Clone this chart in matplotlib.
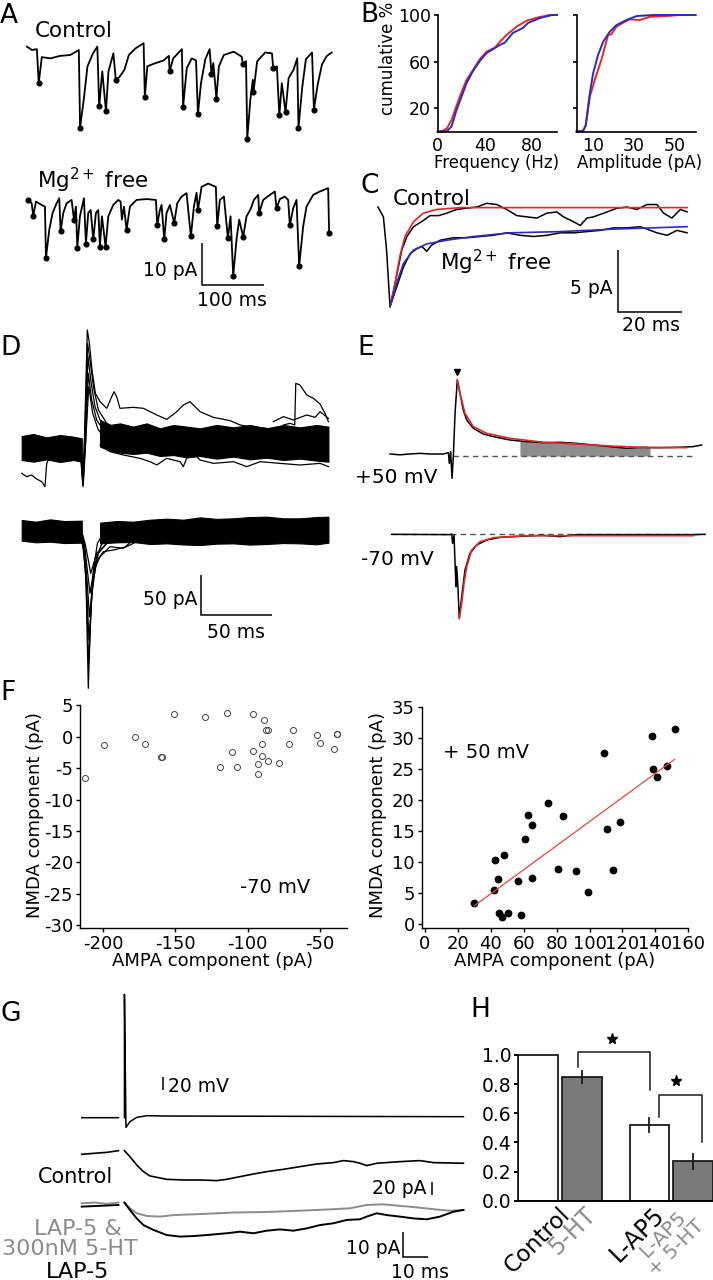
import numpy as np
import matplotlib
matplotlib.use("Agg")
import matplotlib.pyplot as plt

# ---------------- data ----------------
# A: sEPSC traces (ms, pA), dots mark detected events (indices into the traces)
ctrl_t = [0, 8, 16, 19, 24, 38, 54, 70, 84, 86, 92, 98, 107, 114, 117, 122, 128, 132, 140, 144,
          150, 158, 165, 176, 189, 191, 195, 205, 221, 230, 231, 237, 251, 253, 259, 267, 274, 277, 282, 289,
          296, 299, 302, 307, 311, 319, 335, 348, 350, 355, 357, 362, 366, 367, 373, 386, 397, 399, 405, 409,
          413, 419, 424, 432, 438, 440, 446, 452, 462, 465, 471, 478, 486, 494]
ctrl_i = [0.4, -0.4, -0.2, -8.3, -2.1, -2.4, -1.8, -1.6, -0.4, -18.9, -12.2, -4.3, -1.2, 0.4, -13.8, -5.5, -15.0, -5.5, -1.2, -7.6,
          -6.8, -5.1, -1.6, 0, 1.2, -11.6, -4.3, -3.7, -2.9, -1.8, -5.5, -2.4, -0.2, -13.9, -4.7, -2.4, -2.9, -15.7, -8.3, -2.6,
          -0.2, -6.1, -3.5, -12.0, -4.3, -1.6, -0.8, -2.0, -3.7, -3.1, -21.5, -12.2, -7.5, -10.5, -3.1, -1.0, -1.2, -4.7, -4.3, -16.0,
          -8.3, -15.2, -7.1, -5.1, -2.4, -18.9, -9.4, -2.6, -1.0, -14.6, -8.7, -3.9, -1.8, -1.0]
ctrl_events = [3, 9, 14, 16, 19, 25, 30, 33, 37, 41, 43, 48, 50, 53, 57, 59, 61, 65, 69]

mg_t = [0, 5.4, 8.1, 12.4, 21.6, 27, 28.6, 34, 39.4, 45.9, 50.2, 52.4, 56.7, 62.1, 70.2, 74, 77.2, 79.4, 83.7, 90.2,
        93.4, 97.2, 101, 105.3, 109.6, 113.4, 116.1, 119.3, 125.3, 129.6, 137.7, 145.8, 149.6, 151.7, 155, 159.3, 164.7,
        175.5, 191.7, 206.8, 209, 213.3, 216, 220.3, 224.1, 229.5, 236.5, 241.4, 248.4, 256.5, 263.5, 268.4, 272.7, 274.9,
        280.8, 291.6, 304, 306.2, 310.5, 317, 323.5, 327.8, 332.1, 337.5, 341.8, 348.3, 353.7, 360.2, 365.6, 372.6, 374.2,
        380.7, 391.5, 399.6, 402.3, 407.7, 415.8, 421.2, 423.9, 429.3, 434.7, 439, 445.5, 450.9, 461.7, 472.5, 486, 487.6]
mg_i = [0, -0.8, -3.8, -0.4, -1.2, -1.6, -13.8, -7.1, -3.1, -0.8, 0.4, -7.5, -3.1, -0.8, 0, -4.7, -1.6, -11.4, -3.9, 0.4,
        -10.4, -3.1, -2.4, -9.4, -3.1, -2.4, -11.2, -3.9, -11.2, -3.9, -1.2, 0, -0.4, -4.7, -1.6, -7.1, -1.6,
        0, 0.2, 0, -5.9, -2.4, -1.2, -9.4, -3.1, -1.2, -5.5, -0.8, 0.8, 1.6, -8.7, -1.6, 1.7, -2.5,
        3.1, 3.9, 3.1, -6.3, 0, 0.8, -9.1, -3.9, -18.1, -9.4, -4.7, -8.8, -3.9, -2.2, 0, 1.2, -3.1,
        0, 1.2, 2.0, -2.0, 0.2, 0.8, 0, -6.0, -2.0, 0, -15.7, -6.3, -1.6, 1.2, 2.0, 2.8, -7.9]
mg_events = [0, 2, 6, 11, 15, 17, 20, 23, 26, 28, 35, 40, 43, 46, 50, 53, 57, 60, 62, 65, 70, 74, 78, 81, 87]

# B: cumulative distributions (%), control = red, Mg2+ free = blue
freq_ctrl_x = [0, 4.5, 7.9, 11.7, 18.7, 24.4, 30.0, 35.7, 41.4, 48.5, 52.8, 58.5, 67.0, 75.5, 85.4, 95.3, 101.3]
freq_ctrl_y = [0, 0.9, 2.9, 10.0, 29.9, 44.3, 52.8, 62.0, 68.5, 72.0, 77.1, 82.9, 90.0, 95.1, 98.0, 100, 100]
freq_mg_x = [0, 7.9, 11.7, 16.0, 20.2, 24.4, 30.1, 35.7, 41.4, 48.5, 52.8, 57.0, 63.8, 72.3, 76.6, 86.8, 97.0, 101.3]
freq_mg_y = [0, 0.6, 4.3, 18.6, 29.9, 41.4, 52.2, 60.5, 67.3, 71.7, 74.3, 76.3, 84.6, 88.9, 93.1, 97.4, 100, 100]
amp_ctrl_x = [1.9, 5.1, 6.4, 8.4, 10.8, 14.0, 17.3, 18.9, 21.4, 24.6, 27.9, 32.8, 37.7, 45.8, 52.3, 56.4]
amp_ctrl_y = [0, 0.9, 4.9, 30.0, 44.3, 61.4, 82.9, 83.5, 90.0, 93.4, 96.3, 95.7, 98.5, 99.1, 100, 100]
amp_mg_x = [1.9, 5.1, 6.4, 8.4, 10.0, 12.4, 14.9, 18.1, 21.4, 26.3, 31.2, 39.3, 60.0]
amp_mg_y = [0, 0.7, 5.7, 32.9, 50.0, 65.7, 77.1, 85.6, 91.4, 95.7, 99.1, 100, 100]

# C: averaged events (ms, pA) with fits
avg_ctrl_t = [0, 1.7, 2.7, 3.8, 5.4, 7.5, 9.1, 11.2, 14.3, 16.4, 19.1, 21.7, 24.8, 28.0, 31.2, 34.3, 37.5, 40.6, 43.8,
              46.9, 50.1, 53.3, 56.4, 58.5, 61.7, 63.8, 65.9, 68.0, 71.2, 75.4, 78.5, 81.7, 84.8, 88.0, 90.1, 92.7, 95.4, 97.5]
avg_ctrl_i = [0, -0.8, -3.5, -8.1, -6.2, -3.5, -2.4, -1.6, -1.1, -0.7, -0.7, -0.5, -0.2, -0.1, 0, 0.3, 0.2, -0.2, -0.7,
              -0.8, -0.9, -0.5, -0.4, -0.8, -1.2, -1.5, -0.9, -0.8, -0.5, -0.1, 0, -0.2, 0.2, 0.2, -0.5, -0.9, -0.2, -0.4]
fit_ctrl_t = [3.8, 5.4, 6.9, 8.5, 11.2, 14.3, 18.5, 25.9, 97.5]
fit_ctrl_i = [-8.1, -6.2, -4.0, -2.4, -1.2, -0.5, -0.2, -0.05, -0.05]
avg_mg_t = [3.8, 5.9, 8.0, 10.1, 12.2, 13.8, 15.4, 16.9, 19.6, 23.8, 28.0, 32.2, 36.4, 40.6, 44.8, 49.1, 53.3, 57.5,
            61.7, 65.9, 70.1, 74.3, 78.5, 82.7, 85.9, 88.0, 91.2, 94.3, 97.5]
avg_mg_i = [-8.1, -6.5, -4.9, -3.8, -3.4, -3.2, -3.6, -3.1, -2.7, -2.5, -2.5, -2.4, -2.3, -2.1, -2.3, -2.4, -2.3, -2.1,
            -2.1, -2.0, -1.9, -1.7, -1.7, -1.6, -1.9, -2.1, -2.3, -1.9, -2.1]
fit_mg_t = [3.8, 5.9, 8.0, 11.2, 15.4, 21.7, 30.1, 41.7, 57.5, 74.3, 97.5]
fit_mg_i = [-8.1, -6.2, -4.6, -3.5, -3.0, -2.7, -2.4, -2.1, -2.0, -1.8, -1.6]

# D: superimposed evoked currents (ms, pA); dense baseline bundles given as envelopes
d50_pre_t = [0, 8.2, 17.6, 27.0, 36.4, 42.3]
d50_pre_hi = [17.5, 20, 15.8, 18.75, 16.7, 14.6]
d50_pre_lo = [-12.5, -14.6, -11.7, -15, -12.5, -14.6]
d50_post_t = [55.2, 62.2, 69.2, 78.6, 88.0, 97.4, 106.8, 116.2, 125.6, 137.3, 149.1, 160.8, 172.5, 184.3, 196.0, 207.7, 216.0]
d50_post_hi = [37.5, 31.3, 33.3, 29.2, 33.3, 27.1, 31.3, 29.2, 27.1, 31.3, 28.3, 31.3, 27.1, 31.3, 28.3, 31.3, 29.2]
d50_post_lo = [4.2, -0.8, -3.3, -5, -3.3, -7.5, -6.3, -9.2, -7.5, -10.8, -8.3, -11.7, -9.6, -12.5, -10.8, -13.3, -14.6]
d50_sweeps_t = [
    [41.1, 43.0, 44.1, 46.2, 47.7, 49.5, 51.9, 55.2, 59.9, 63.4, 65.0, 66.9, 69.2, 78.6, 85.7, 95.1, 102.1,
     109.2, 113.8, 118.5, 125.6, 135.0, 146.7, 153.8, 163.1, 172.5],
    [41.1, 43.0, 44.4, 46.4, 48.1, 50.5, 54.0, 59.9, 78.6],
    [41.5, 43.2, 44.6, 46.7, 48.6, 51.6, 55.2, 62.2, 78.6],
    [41.8, 43.4, 44.9, 46.9, 49.3, 52.8, 57.5, 78.6],
    [41.8, 43.4, 45.1, 47.2, 50.0, 54.0, 59.9, 78.6],
    [184.3, 189.0, 192.3, 193.0, 196.0, 200.7, 205.4, 210.1, 213.6, 216.0],
    [177.2, 184.3, 191.3, 200.7, 206.6, 210.1, 216.0],
    [55.2, 62.2, 71.6, 83.3, 90.4, 95.1, 102.1, 111.5, 113.8, 116.2, 120.9, 125.6, 135.0, 149.1, 158.5,
     167.9, 182.0, 196.0, 210.1, 216.0],
    [0, 3.5, 7.0, 10.6, 14.1, 16.4, 17.6, 20.0],
]
d50_sweeps_i = [
    [2.1, -43.8, 8.3, 150, 133.3, 100, 70.8, 60.4, 52.1, 66.7, 72.9, 66.7, 52.1, 53.3, 52.1, 43.8, 38.3,
     47.9, 56.3, 60.4, 47.9, 40.8, 36.7, 31.3, 28.3, 27.1],
    [4.2, -39.6, 16.7, 133.3, 112.5, 79.2, 50, 33.3, 16.7],
    [6.25, -45.8, 12.5, 116.7, 87.5, 54.2, 37.5, 25, 12.5],
    [0, -41.7, 4.2, 95.8, 62.5, 37.5, 25, 8.3],
    [2.1, -33.3, 12.5, 79.2, 45.8, 25, 12.5, 4.2],
    [31.3, 33.3, 31.3, 83.3, 81.25, 68.8, 64.6, 57.5, 45.8, 35.4],
    [35.4, 41.7, 37.5, 43.8, 40.8, 47.9, 39.6],
    [6.25, -2.1, -6.25, -10.4, -14.6, -18.75, -10.4, -14.6, -20.8, -10.4, -4.2, -12.5, -16.7, -14.6, -20.8,
     -14.6, -16.7, -18.75, -16.7, -20.8],
    [-29.2, -33.3, -31.3, -36.3, -39.6, -45.8, -16.7, -8.3],
]
d70_pre_t = [0, 10, 20, 30, 42.3]
d70_pre_hi = [14.6, 12.5, 15.4, 13.3, 13.75]
d70_pre_lo = [-11.25, -13.3, -12.5, -14.2, -13.75]
d70_post_t = [55.2, 66.9, 78.6, 90.4, 102.1, 113.8, 125.6, 137.3, 149.1, 160.8, 172.5, 184.3, 196.0, 207.7, 216.0]
d70_post_hi = [11.25, 13.3, 12.5, 15.0, 16.25, 15.0, 17.9, 16.0, 16.7, 18.3, 18.75, 16.7, 16.7, 18.3, 18.75]
d70_post_lo = [-14.6, -13.3, -12.9, -15.4, -14.6, -16.0, -16.7, -15.0, -14.6, -16.2, -15.4, -14.2, -14.6, -15.8, -13.75]
d70_sweeps_t = [
    [41.1, 43.4, 45.1, 46.9, 48.6, 50.5, 53.3, 57.5],
    [41.1, 43.4, 45.3, 47.2, 49.3, 52.8, 57.5, 64.6],
    [41.5, 43.9, 45.8, 47.4, 50.0, 54.0, 59.9, 69.2],
    [41.8, 44.1, 46.2, 47.7, 50.9, 55.2, 62.2, 71.6, 78.6],
    [41.8, 44.4, 46.2, 48.1, 51.6, 57.5, 64.6, 73.9, 83.3],
    [42.3, 44.6, 46.9, 48.6, 52.8, 59.9, 69.2],
]
d70_sweeps_i = [
    [2.1, -18.75, -47.9, -195.8, -102.1, -47.9, -14.6, -2.1],
    [2.1, -22.9, -60.4, -164.6, -81.25, -31.25, -10.4, -4.2],
    [0, -25, -72.9, -135.4, -64.6, -27.1, -14.6, -6.25],
    [2.1, -22.9, -64.6, -106.25, -47.9, -31.25, -18.75, -20.8, -10.4],
    [2.1, -18.75, -47.9, -77.1, -39.6, -25, -22.9, -18.75, -10.4],
    [0, -14.6, -35.4, -52.1, -27.1, -14.6, -10.4],
]

# E: averaged currents at +50 and -70 mV (ms, pA) with fits
e50_t = [0, 7.0, 14.1, 21.1, 28.2, 37.6, 41.1, 41.8, 42.7, 43.7, 44.6, 45.8, 47.4, 49.3, 51.6, 54.0, 58.7, 65.7,
         72.8, 84.5, 91.5, 96.2, 108.0, 119.7, 131.5, 143.2, 154.9, 166.7, 178.4, 183.1, 190.1, 201.9, 213.6, 219.5]
e50_i = [2.5, 1.5, 2.5, 3.3, 2.5, 2.5, 4.2, -9.2, 5.4, -27.9, -0.8, 53.3, 95, 78.3, 57.5, 45, 34.6, 27.5,
         24.2, 20, 18.75, 17.9, 16.7, 17.1, 15.8, 13.75, 11.7, 9.6, 10.8, 10.4, 10.4, 10.8, 11.7, 13.75]
e50_fit_t = [47.4, 49.3, 52.8, 58.7, 68.1, 84.5, 108.0, 131.5, 154.9, 178.4, 208.9]
e50_fit_i = [95, 78.3, 53.3, 36.7, 28.3, 22.1, 17.1, 15, 12.5, 10.8, 10.4]
e50_window = [91.5, 183.1]
e70_t = [1.2, 42.3, 43.4, 44.1, 45.1, 45.8, 46.5, 46.9, 47.7, 48.8, 50.5, 52.8, 56.3, 61.0, 68.1, 77.5, 86.9,
         96.2, 108.0, 119.7, 131.5, 143.2, 166.7, 190.1, 213.6, 221.8]
e70_i = [-0.4, -0.8, 0, -11.7, -1.25, -36.7, -65.8, -40.8, -61.7, -105.4, -78.3, -45, -24.2, -13.75, -7.5, -4.2, -3.3,
         -2.5, -1.7, -3.3, -0.8, -0.8, -0.8, -0.8, -0.8, -0.4]
e70_fit_t = [48.8, 50.5, 52.1, 54.0, 57.5, 63.4, 72.8, 96.2, 213.6]
e70_fit_i = [-105.4, -86.7, -61.7, -40.8, -20, -9.6, -4.6, -2.1, -2.1]

# F: AMPA vs NMDA components (pA)
ampa_70 = [-212.4, -199.1, -178.1, -171.2, -159.7, -159.0, -150.9, -129.3, -119.1, -114.3, -110.7, -107.6, -96.4,
           -96.4, -92.7, -92.9, -90.4, -89.9, -88.6, -87.6, -86.2, -85.8, -78.6, -71.7, -68.5, -52.4, -49.9,
           -40.4, -38.2, -38.0]
nmda_70 = [-6.5, -1.3, 0, -1.2, -3.2, -3.3, 3.6, 3.1, -4.8, 3.8, -2.5, -4.9, 3.6, -2.2, -4.4, -5.9, -1.2, -3.0,
           2.6, 1.0, 1.0, -3.9, -4.2, -1.2, 1.1, 0.2, -1.0, -1.9, 0.5, 0.4]
ampa_50 = [30.0, 42.1, 42.5, 44.6, 48.0, 45.0, 46.6, 50.6, 56.7, 58.3, 60.8, 62.4, 65.2, 65.2, 74.5, 81.0, 83.8,
           91.7, 99.2, 108.6, 110.6, 114.2, 118.5, 137.7, 138.3, 141.0, 147.2, 151.7]
nmda_50 = [3.4, 5.5, 10.4, 7.3, 11.2, 1.8, 1.2, 1.8, 7.0, 1.5, 13.8, 17.6, 16.0, 7.5, 19.5, 8.9, 17.4, 8.6, 5.2,
           27.6, 15.3, 8.8, 16.5, 30.4, 25.0, 23.8, 25.6, 31.5]

# G: spike (mV) and EPSCs (pA) vs time (ms); nan = gap at the stimulus
g_volt_t = [0, 14.7, np.nan, 17.1, 17.1, 17.7, 19.3, 22, 26, 34, 152.7]
g_volt_v = [0, 0, np.nan, 0, 185, -14.5, -6, 0.5, 3, 2.5, 1.5]
g_ctrl_t = [0, 5, 10, 14.7, np.nan, 17.1, 19.3, 22, 24.7, 27.3, 34, 40.7, 47.3, 54, 58, 63.3, 68.7, 74, 80.7, 87.3,
            94, 100.7, 104.7, 108.7, 111.3, 114, 118, 127.3, 135.3, 140.7, 152.7]
g_ctrl_i = [0, 1.5, 3, 5.6, np.nan, 5.6, -3.6, -16.4, -26.7, -33.3, -38.5, -39.5, -39.5, -40.5, -38.5, -34.4, -30.3,
            -26.7, -23.1, -19, -14.9, -12.8, -9.7, -11.3, -13.8, -17.4, -13.8, -11.3, -9.7, -12.8, -13.8]
g_ht_t = [0, 5, 10, 14.7, np.nan, 17.1, 19.3, 22, 26, 31.3, 36.7, 47.3, 60.7, 74, 87.3, 100.7, 107.3, 114, 120.7,
          127.3, 134, 140.7, 147.3, 152.7]
g_ht_i = [0, 0.3, -0.2, 0.3, np.nan, 0.26, -1.95, -3.9, -4.95, -5.2, -4.6, -4.2, -3.6, -3.4, -2.9, -2.3, -1.95, -0.65,
          -0.4, -1.0, -1.6, -2.3, -2.9, -2.6]
g_ap5_t = [0, 7, 14.7, np.nan, 17.1, 19.3, 22, 24.7, 28.7, 34, 39.3, 44.7, 50, 58, 63.3, 68.7, 74, 79.3, 84.7, 90,
           95.3, 100.7, 106, 111.3, 114, 118, 122, 127.3, 132.7, 138, 143.3, 148.7, 152.7]
g_ap5_i = [-1.3, -1.0, -0.65, np.nan, 0.26, -2.6, -5.9, -8.5, -10.4, -12.4, -13.0, -12.8, -12.4, -11.7, -11.1, -11.7,
           -10.7, -10.2, -10.7, -9.8, -8.5, -7.8, -6.5, -6.25, -5.2, -3.9, -4.6, -5.2, -5.9, -6.25, -5.2, -3.3, -2.6]

# H: normalised response
h_labels = ["Control", "5-HT", "L-AP5", "L-AP5\n+ 5-HT"]
h_mean = [1.0, 0.85, 0.52, 0.27]
h_err = [0, 0.043, 0.05, 0.05]

# ---------------- drawing ----------------
W, H = 713, 1280
RED = "#e3262b"
BLUE = "#2b2bbf"
GRAY = "#8c8c8c"

plt.rcParams["font.family"] = ["DejaVu Sans"]
plt.rcParams["axes.unicode_minus"] = False
plt.rcParams["mathtext.default"] = "regular"

fig = plt.figure(figsize=(W / 100, H / 100), dpi=100)


def box(x0, y0, x1, y1):
    # axes placed in pixel coords (top-left origin)
    return fig.add_axes([x0 / W, 1 - y1 / H, (x1 - x0) / W, (y1 - y0) / H])


def trace_box(x0, y0, x1, y1, t0, tpx, v0, vpx):
    # frameless axes where t0/v0 are pixel origins and tpx/vpx pixels per unit
    ax = box(x0, y0, x1, y1)
    ax.set_xlim((x0 - t0) / tpx, (x1 - t0) / tpx)
    ax.set_ylim((v0 - y1) / vpx, (v0 - y0) / vpx)
    ax.axis("off")
    return ax


def put(x, y, s, size, **kw):
    kw.setdefault("va", "baseline")
    fig.text(x / W, 1 - y / H, s, fontsize=size, **kw)


def bar(ax, xs, ys):
    ax.plot(xs, ys, color="k", lw=1.1, solid_capstyle="butt", solid_joinstyle="miter", clip_on=False)


def style(ax, lw=1.2, size=13):
    for s in ("top", "right"):
        ax.spines[s].set_visible(False)
    for s in ("left", "bottom"):
        ax.spines[s].set_linewidth(lw)
    ax.tick_params(direction="out", length=3, width=lw, pad=2, labelsize=size)


# ---- A ----
ax = trace_box(15, 35, 345, 312, 27, 0.617, 48.3, 4.2)
ax.plot(ctrl_t, ctrl_i, color="k", lw=1.3)
ax.plot(np.array(ctrl_t)[ctrl_events], np.array(ctrl_i)[ctrl_events], "o", color="k", ms=3.4)
mg_shift_t, mg_shift_i = 2.1, -36.1
ax.plot(np.array(mg_t) + mg_shift_t, np.array(mg_i) + mg_shift_i, color="k", lw=1.3)
ax.plot(np.array(mg_t)[mg_events] + mg_shift_t, np.array(mg_i)[mg_events] + mg_shift_i, "o", color="k", ms=3.4)
bar(ax, [283.6, 283.6, 383.6], [-46.4, -56.4, -56.4])
put(0, 23, "A", 19)
put(35, 37, "Control", 15.5)
put(37, 188, "Mg$^{2+}$ free", 15.5)
put(197, 276, "10 pA", 13.5, ha="right")
put(232, 306, "100 ms", 13.5, ha="center")

# ---- B ----
put(360, 22, "B", 19)
axb1 = box(437.7, 15, 557, 131.7)
axb1.plot(freq_ctrl_x, freq_ctrl_y, color=RED, lw=1.4, clip_on=False)
axb1.plot(freq_mg_x, freq_mg_y, color=BLUE, lw=1.4, clip_on=False)
axb1.set_xlim(0, 101.3)
axb1.set_ylim(0, 100)
style(axb1, size=12.5)
axb1.set_xticks([0, 40, 80])
axb1.set_yticks([20, 60, 100])
axb1.tick_params(axis="x", length=0, pad=4)

axb2 = box(576.7, 15, 695.7, 131.7)
axb2.plot(amp_ctrl_x, amp_ctrl_y, color=RED, lw=1.4, clip_on=False)
axb2.plot(amp_mg_x, amp_mg_y, color=BLUE, lw=1.4, clip_on=False)
axb2.set_xlim(2, 60)
axb2.set_ylim(0, 100)
style(axb2, size=12.5)
axb2.set_xticks([10, 30, 50])
axb2.set_yticks([20, 60, 100])
axb2.tick_params(axis="x", length=0, pad=4)
axb2.tick_params(axis="y", labelleft=False)
put(388, 58, "cumulative %", 12, rotation=90, ha="center", va="center")
put(497, 168, "Frequency (Hz)", 12, ha="center")
put(640, 168, "Amplitude (pA)", 12, ha="center")

# ---- C ----
axc = trace_box(362, 195, 705, 345, 378, 3.17, 207, 12.3)
axc.plot(avg_ctrl_t, avg_ctrl_i, color="k", lw=1.1)
axc.plot(avg_mg_t, avg_mg_i, color="k", lw=1.1)
axc.plot(fit_ctrl_t, fit_ctrl_i, color=RED, lw=1.2)
axc.plot(fit_mg_t, fit_mg_i, color=BLUE, lw=1.2)
bar(axc, [75.8, 75.8, 95.8], [-3.5, -8.5, -8.5])
put(360, 193, "C", 19)
put(393, 205, "Control", 15.5)
put(440, 270, "Mg$^{2+}$ free", 15.5)
put(613, 294, "5 pA", 13.5, ha="right")
put(651, 331, "20 ms", 13.5, ha="center")

# ---- D ----
axd = trace_box(0, 318, 345, 705, 21.7, 1.42, 450, 0.8)
axd.fill_between(d50_pre_t, d50_pre_lo, d50_pre_hi, color="k", lw=0.8)
axd.fill_between(d50_post_t, d50_post_lo, d50_post_hi, color="k", lw=0.8)
for t, i in zip(d50_sweeps_t, d50_sweeps_i):
    axd.plot(t, i, color="k", lw=0.9)
off70 = -102.1
axd.fill_between(d70_pre_t, np.array(d70_pre_lo) + off70, np.array(d70_pre_hi) + off70, color="k", lw=0.8)
axd.fill_between(d70_post_t, np.array(d70_post_lo) + off70, np.array(d70_post_hi) + off70, color="k", lw=0.8)
for t, i in zip(d70_sweeps_t, d70_sweeps_i):
    axd.plot(t, np.array(i) + off70, color="k", lw=0.9)
bar(axd, [126.3, 126.3, 176.3], [-156.25, -206.25, -206.25])
put(0, 355, "D", 19)
put(197, 605, "50 pA", 13.5, ha="right")
put(236, 638, "50 ms", 13.5, ha="center")

# ---- E ----
axe = trace_box(355, 330, 713, 700, 390, 1.42, 456, 0.8)
t50, i50 = np.array(e50_t), np.array(e50_i)
win = (t50 >= e50_window[0]) & (t50 <= e50_window[1])
axe.fill_between(t50[win], 0, i50[win], color="#8c8c8c", lw=0)
axe.plot([44.6, 214.8], [0, 0], color="#555555", lw=1, ls=(0, (4, 3)))
axe.plot(t50, i50, color="k", lw=1.1)
axe.plot(e50_fit_t, e50_fit_i, color=RED, lw=1.2)
axe.plot(47.4, 105.4, marker="v", color="k", ms=5)
off_e = -97.5
axe.plot([1.2, 221.8], [off_e, off_e], color="#555555", lw=1, ls=(0, (4, 3)))
axe.plot(e70_t, np.array(e70_i) + off_e, color="k", lw=1.1)
axe.plot(e70_fit_t, np.array(e70_fit_i) + off_e, color=RED, lw=1.2)
put(357, 355, "E", 19)
put(355, 483, "+50 mV", 14.5)
put(361, 565, "-70 mV", 14.5)

# ---- F ----
put(0, 700, "F", 19)
axf1 = box(80, 705.3, 346.7, 928.3)
axf1.plot(ampa_70, nmda_70, "o", mfc="none", mec="#444444", mew=0.7, ms=4.3, clip_on=False)
axf1.set_xlim(-215.9, -31.6)
axf1.set_ylim(-30.5, 5)
style(axf1, lw=1.0, size=13)
axf1.set_xticks([-200, -150, -100, -50])
axf1.set_yticks([5, 0, -5, -10, -15, -20, -25, -30])
put(240, 893, "-70 mV", 14)
put(35, 815, "NMDA component (pA)", 13, rotation=90, ha="center", va="center")
put(213, 966, "AMPA component (pA)", 13, ha="center")

axf2 = box(421.7, 707.3, 688.3, 927.7)
axf2.plot(ampa_50, nmda_50, "o", color="k", ms=4.6, clip_on=False)
coef = np.polyfit(ampa_50, nmda_50, 1)
xr = np.array([min(ampa_50), max(ampa_50)])
axf2.plot(xr, np.polyval(coef, xr), color="#e8453c", lw=0.9)
axf2.set_xlim(-2, 160)
axf2.set_ylim(-0.55, 35)
style(axf2, lw=1.0, size=13)
axf2.set_xticks(np.arange(0, 161, 20))
axf2.set_yticks(np.arange(0, 36, 5))
put(443, 758, "+ 50 mV", 14)
put(378, 815, "NMDA component (pA)", 13, rotation=90, ha="center", va="center")
put(555, 966, "AMPA component (pA)", 13, ha="center")

# ---- G ----
gbox = (0, 985, 470, 1280)
axgv = trace_box(*gbox, 81.7, 2.5, 1117.7, 0.667)
axgv.plot(g_volt_t, g_volt_v, color="k", lw=1.1, clip_on=False)
bar(axgv, [32.7, 32.7], [41.5, 61.5])
axgc = trace_box(*gbox, 81.7, 2.5, 1154.3, 0.65)
axgc.plot(g_ctrl_t, g_ctrl_i, color="k", lw=1.2)
bar(axgc, [140, 140], [-42.6, -62.6])
axgl = trace_box(*gbox, 81.7, 2.5, 1203.3, 2.56)
axgl.plot(g_ht_t, g_ht_i, color=GRAY, lw=1.4)
axgl.plot(g_ap5_t, g_ap5_i, color="k", lw=1.4)
bar(axgl, [128.6, 128.6, 138.6], [-11.1, -21.1, -21.1])
put(0, 1021, "G", 19)
put(168, 1092, "20 mV", 13.5)
put(38, 1183, "Control", 15)
put(427, 1194, "20 pA", 13.5, ha="right")
put(78, 1235, "LAP-5 &", 16, ha="center", color=GRAY)
put(70, 1255, "300nM 5-HT", 16, ha="center", color=GRAY)
put(78, 1278, "LAP-5", 16, ha="center")
put(400, 1254, "10 pA", 13.5, ha="right")
put(420, 1278, "10 ms", 13.5, ha="center")

# ---- H ----
put(470, 1017, "H", 19)
axh = box(518.3, 1000, 713, 1200.7)
pos = np.array([0, 1.1, 2.8, 3.9])
face = ["white", "#7a7a7a", "white", "#7a7a7a"]
axh.bar(pos, h_mean, width=1.0, color=face, edgecolor="#1a1a1a", linewidth=1.3, zorder=2)
for p, m, e in zip(pos, h_mean, h_err):
    if e > 0:
        axh.plot([p, p], [m - e, m + e], color="#1a1a1a", lw=1.3, zorder=3)
axh.set_xlim(-0.5, 4.4)
axh.set_ylim(0, 1.377)
style(axh, lw=1.4, size=13.5)
axh.spines["left"].set_bounds(0, 1)
axh.spines["left"].set_linewidth(1.1)
axh.set_yticks(np.arange(0, 1.01, 0.2))
axh.set_yticklabels([f"{v:.1f}" for v in np.arange(0, 1.01, 0.2)])
axh.set_xticks([])
for p, lab, col, dx, fs in zip(pos, h_labels, ["k", GRAY, "k", GRAY],
                               [0.5, 0.05, 0.08, -0.3], [16.5, 17, 17, 14.5]):
    axh.text(p + dx, -0.015, lab, rotation=45, ha="right", va="top", rotation_mode="anchor",
             color=col, fontsize=fs, multialignment="center", linespacing=1.0, clip_on=False)
axh.plot([1.0, 1.0, 2.81, 2.81], [0.92, 1.023, 1.023, 0.76], color="#1a1a1a", lw=1.1)
axh.plot([3.04, 3.04, 4.13, 4.13], [0.577, 0.725, 0.725, 0.405], color="#1a1a1a", lw=1.1)
axh.plot(1.87, 1.108, marker="*", color="k", ms=8)
axh.plot(3.46, 0.822, marker="*", color="k", ms=8)

fig.savefig("out.png", dpi=100)
